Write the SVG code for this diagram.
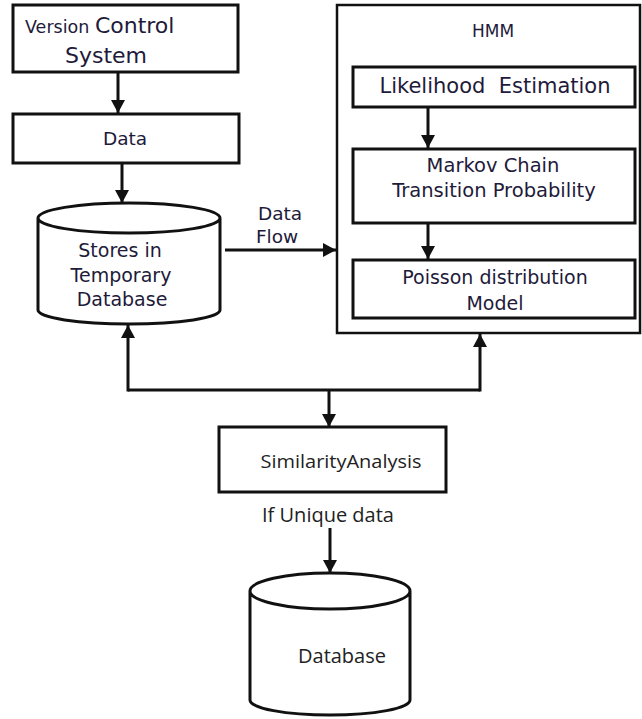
<svg xmlns="http://www.w3.org/2000/svg" width="642" height="719" viewBox="0 0 642 719">
  <style>
    .box { fill: #ffffff; stroke: #111111; stroke-width: 3; }
    .frame { fill: #ffffff; stroke: #111111; stroke-width: 2.5; }
    .cyl { fill: #ffffff; stroke: #111111; stroke-width: 3; }
    .t { font-family: "DejaVu Sans", Verdana, sans-serif; fill: #221a3a; text-anchor: middle; }
    .t.start { text-anchor: start; }
    .c { font-family: "Open Sans", "Noto Sans", sans-serif; fill: #222222; text-anchor: middle; }
    .conn line, .conn path { stroke: #111111; stroke-width: 3; fill: none; }
  </style>
  <defs>
    <marker id="arrow" markerUnits="userSpaceOnUse" markerWidth="14" markerHeight="14" refX="13" refY="7" orient="auto">
      <path d="M0,0 L13,7 L0,14 z" fill="#111111"/>
    </marker>
  </defs>

  <g id="vcs">
    <rect class="box" x="13" y="5" width="225" height="67"/>
    <text class="t start" x="25" y="33"><tspan font-size="17.5">Version </tspan><tspan font-size="22">Control</tspan></text>
    <text class="t" x="106" y="63" font-size="22">System</text>
  </g>

  <g id="data">
    <rect class="box" x="13" y="114" width="226" height="49"/>
    <text class="t" x="125" y="145" font-size="18.5">Data</text>
  </g>

  <g id="temp-db">
    <path class="cyl" d="M38,218 L38,310 A91,14 0 0 0 220,310 L220,218 A91,15 0 0 0 38,218 A91,15 0 0 0 220,218"/>
    <text class="t" x="120" y="257" font-size="19">Stores in</text>
    <text class="t" x="121" y="282" font-size="19">Temporary</text>
    <text class="t" x="122" y="306" font-size="19">Database</text>
  </g>

  <g id="hmm">
    <rect class="frame" x="337" y="5" width="303" height="328"/>
    <text class="t" x="493" y="37" font-size="17">HMM</text>
  </g>

  <g id="likelihood">
    <rect class="box" x="353" y="67" width="282" height="40"/>
    <text class="t" x="495" y="93" font-size="21" xml:space="preserve">Likelihood  Estimation</text>
  </g>

  <g id="markov">
    <rect class="box" x="353" y="149" width="282" height="74"/>
    <text class="t" x="493" y="172" font-size="19.5">Markov Chain</text>
    <text class="t" x="494" y="197" font-size="19.5">Transition Probability</text>
  </g>

  <g id="poisson">
    <rect class="box" x="353" y="260" width="282" height="58"/>
    <text class="t" x="495" y="284" font-size="19">Poisson distribution</text>
    <text class="t" x="495" y="310" font-size="19">Model</text>
  </g>

  <g id="similarity">
    <rect class="box" x="219" y="427" width="227" height="65"/>
    <text class="c" x="341" y="468" font-size="19" textLength="161" lengthAdjust="spacingAndGlyphs">SimilarityAnalysis</text>
  </g>

  <g id="unique-label">
    <text class="c" x="328" y="522" font-size="20">If Unique data</text>
  </g>

  <g id="database">
    <path class="cyl" d="M250,591 L250,700 A80,15 0 0 0 410,700 L410,591 A80,18 0 0 0 250,591 A80,18 0 0 0 410,591"/>
    <text class="c" x="342" y="663" font-size="20" fill="#333333">Database</text>
  </g>

  <g id="connectors" class="conn">
    <line x1="118" y1="72" x2="118" y2="113" marker-end="url(#arrow)"/>
    <line x1="122" y1="163" x2="122" y2="203" marker-end="url(#arrow)"/>
    <line x1="225" y1="250" x2="336" y2="250" marker-end="url(#arrow)"/>
    <line x1="428" y1="107" x2="428" y2="148" marker-end="url(#arrow)"/>
    <line x1="428" y1="223" x2="428" y2="259" marker-end="url(#arrow)"/>
    <path d="M128,390 L480,390"/>
    <line x1="128" y1="391.5" x2="128" y2="325" marker-end="url(#arrow)"/>
    <line x1="480" y1="391.5" x2="480" y2="334" marker-end="url(#arrow)"/>
    <line x1="329" y1="390" x2="329" y2="427" marker-end="url(#arrow)"/>
    <line x1="330" y1="528" x2="330" y2="573" marker-end="url(#arrow)"/>
    <text class="t" x="280" y="220" font-size="18.5" stroke="none">Data</text>
    <text class="t" x="277" y="243" font-size="18.5" stroke="none">Flow</text>
  </g>
</svg>
